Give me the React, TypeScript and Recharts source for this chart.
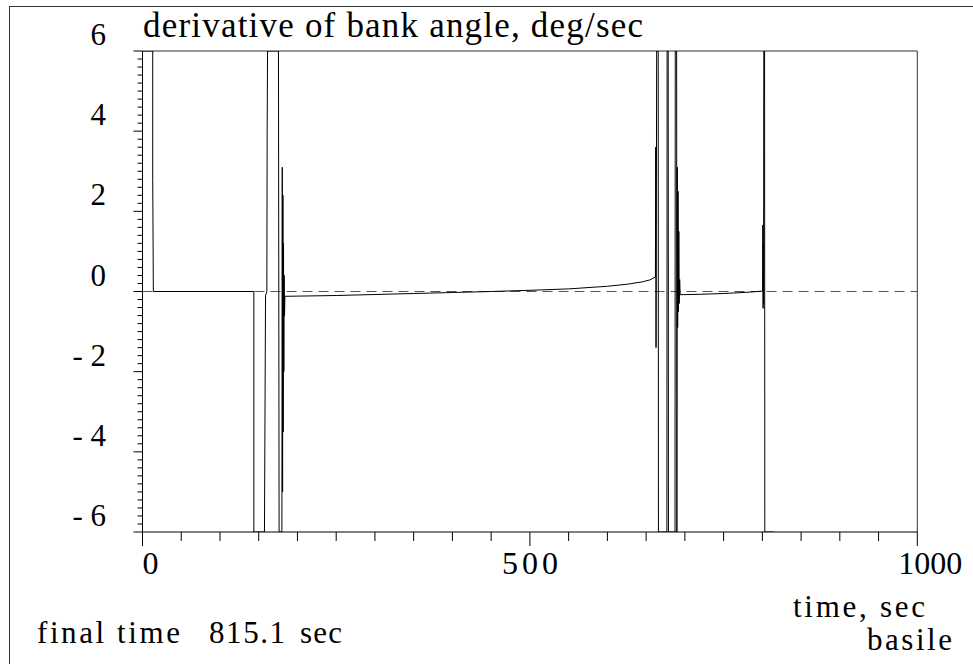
import React from "react";
import {
  Customized,
  Line,
  LineChart,
  ReferenceLine,
  XAxis,
  YAxis,
} from "recharts";

// time, sec
const timeSec = [
  0, 13.2, 13.2, 14.0, 143.7, 143.7, 157.4, 158.8, 160.5, 160.9, 161.4, 175.5,
  176.3, 179.9, 180.4, 180.8, 181.2, 181.6, 182.0, 182.4, 182.8, 183.3, 183.8,
  200, 250, 300, 350, 400, 450, 500, 550, 600, 625, 645, 655, 662.0, 662.4,
  662.8, 663.2, 663.6, 665.6, 665.9, 676.8, 677.1, 678.5, 678.8, 687.3, 687.6,
  689.4, 689.7, 690.2, 690.7, 691.2, 691.7, 692.2, 692.7, 693.3, 694.0, 720,
  750, 780, 800.4, 800.7, 801.0, 801.3, 801.6, 801.9, 802.9, 803.2, 815.1,
];

// derivative of bank angle, deg/sec (saturated values sit on the plot frame)
const bankRate = [
  6, 6, 2.8, 0, 0, -6, -6, -0.1, 0, 4, 6, 6, -6, -6, 3.1, -5.0, 2.4, -3.5, 1.2,
  -2.0, 0.4, -0.6, -0.12, -0.115, -0.1, -0.075, -0.05, -0.025, 0.0, 0.03, 0.065,
  0.13, 0.18, 0.24, 0.29, 0.36, 3.6, -1.4, 2.0, 6, 6, -6, -6, 6, 6, -6, -6, 6, 6,
  -6, 3.1, -0.9, 2.5, -0.5, 1.5, -0.3, 0.3, -0.08, -0.07, -0.05, -0.02, 0.01,
  1.66, -0.42, 1.2, -0.3, 6, 6, -6, -6,
];

const xTicks = Array.from({ length: 21 }, (_, i) => i * 50);
const xLabels = [0, 500, 1000];
const yTicks = Array.from({ length: 61 }, (_, i) => -6 + i * 0.2);
const yLabels = [6, 4, 2, 0, -2, -4, -6];

const data = timeSec.map((t, i) => ({ t, rate: bankRate[i] }));

const serif = { fontFamily: '"Liberation Serif", "DejaVu Serif", serif' };

// label box: left x, baseline y, width
const Txt = ({ x, y, w, size, children }: any) => (
  <text
    x={x}
    y={y}
    fontSize={size}
    fill="#000"
    textLength={w}
    lengthAdjust="spacing"
    style={{ ...serif, whiteSpace: "pre" }}
  >
    {children}
  </text>
);

const xLabelBox: Record<number, [number, number]> = {
  0: [0, 0],
  500: [-28, 56],
  1000: [-19, 64],
};

const XTick = (props: any) => {
  const { x, y, payload } = props;
  const v = payload.value as number;
  const major = xLabels.includes(v);
  const box = xLabelBox[v];
  return (
    <g>
      <line x1={x} x2={x} y1={y} y2={y + (major ? 14 : 9)} stroke="#000" />
      {major &&
        (box[1] > 0 ? (
          <Txt x={x + box[0]} y={y + 42} w={box[1]} size={32}>
            {v}
          </Txt>
        ) : (
          <text x={x} y={y + 42} fontSize={32} fill="#000" style={serif}>
            {v}
          </text>
        ))}
    </g>
  );
};

const YTick = (props: any) => {
  const { x, y, payload } = props;
  const v = payload.value as number;
  const r = Math.round(v);
  const major = Math.abs(v - r) < 1e-6 && yLabels.includes(r);
  return (
    <g>
      <line x1={x - (major ? 9 : 5)} x2={x} y1={y} y2={y} stroke="#000" />
      {major && (
        <text
          x={106}
          y={y - 6}
          textAnchor="end"
          fontSize={31}
          fill="#000"
          style={{ ...serif, whiteSpace: "pre" }}
        >
          {r < 0 ? `- ${-r}` : String(r)}
        </text>
      )}
    </g>
  );
};

const Captions = () => (
  <g>
    <rect x={9.5} y={6.5} width={1200} height={900} fill="none" stroke="#333" />
    <Txt x={143} y={37} w={500} size={35}>
      derivative of bank angle, deg/sec
    </Txt>
    <Txt x={37} y={643} w={143} size={31}>
      final time
    </Txt>
    <Txt x={209} y={643} w={76} size={31}>
      815.1
    </Txt>
    <Txt x={300} y={643} w={42} size={31}>
      sec
    </Txt>
    <Txt x={793} y={617} w={132} size={31}>
      time, sec
    </Txt>
    <Txt x={867} y={650} w={85} size={31}>
      basile
    </Txt>
  </g>
);

export default function App() {
  return (
    <div style={{ position: "absolute", left: 0, top: 0, background: "#fff" }}>
      <LineChart
        width={973}
        height={664}
        data={data}
        margin={{ top: 51, right: 55.7, bottom: 102, left: 82.5 }}
      >
        <Customized component={Captions} />
        <XAxis
          dataKey="t"
          type="number"
          domain={[0, 1000]}
          ticks={xTicks}
          interval={0}
          tickSize={0}
          tickMargin={0}
          tickLine={false}
          tick={<XTick />}
          axisLine={{ stroke: "#000" }}
          height={30}
        />
        <YAxis
          type="number"
          domain={[-6, 6]}
          ticks={yTicks}
          interval={0}
          tickSize={0}
          tickMargin={0}
          tickLine={false}
          tick={<YTick />}
          axisLine={{ stroke: "#000" }}
          width={60}
          allowDataOverflow
        />
        <ReferenceLine y={6} stroke="#333" />
        <ReferenceLine x={1000} stroke="#333" />
        <ReferenceLine y={0} stroke="#555" strokeDasharray="10 6" />
        <Line
          dataKey="rate"
          type="linear"
          stroke="#000"
          strokeWidth={1}
          dot={false}
          isAnimationActive={false}
        />
      </LineChart>
    </div>
  );
}
